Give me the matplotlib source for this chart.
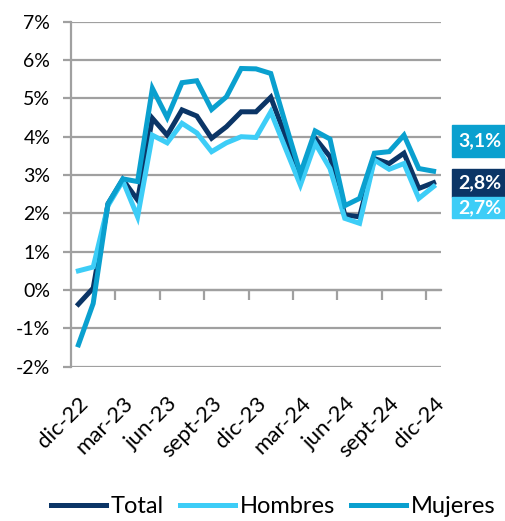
import numpy as np
import matplotlib.pyplot as plt
from matplotlib.patches import Rectangle

plt.rcParams['font.family'] = ['Lato', 'DejaVu Sans']

# Monthly data, dic-22 .. dic-24 (%)
months = ['dic-22', 'ene-23', 'feb-23', 'mar-23', 'abr-23', 'may-23', 'jun-23',
          'jul-23', 'ago-23', 'sept-23', 'oct-23', 'nov-23', 'dic-23',
          'ene-24', 'feb-24', 'mar-24', 'abr-24', 'may-24', 'jun-24',
          'jul-24', 'ago-24', 'sept-24', 'oct-24', 'nov-24', 'dic-24']
total = [-0.37, 0.05, 2.25, 2.88, 2.35, 4.48, 4.04, 4.70, 4.54, 3.96, 4.26, 4.65, 4.65,
         5.03, 4.00, 2.97, 3.96, 3.48, 1.96, 1.91, 3.43, 3.30, 3.57, 2.65, 2.80]
hombres = [0.50, 0.60, 2.20, 2.85, 1.91, 4.04, 3.84, 4.35, 4.10, 3.61, 3.84, 4.00, 3.98,
           4.65, 3.69, 2.74, 3.83, 3.17, 1.87, 1.74, 3.39, 3.15, 3.30, 2.39, 2.70]
mujeres = [-1.43, -0.35, 2.25, 2.90, 2.83, 5.26, 4.50, 5.41, 5.46, 4.71, 5.04, 5.78, 5.77,
           5.65, 4.33, 3.04, 4.15, 3.94, 2.20, 2.39, 3.57, 3.61, 4.04, 3.17, 3.10]

series = [('Total', total, '#0B3566'),
          ('Hombres', hombres, '#3DCDF7'),
          ('Mujeres', mujeres, '#0AA0CF')]

grid_col = '#A0A0A0'

fig = plt.figure(figsize=(5.06, 5.21), dpi=100)
ax = fig.add_axes([0.1403, 0.2962, 0.7312, 0.6621])

x = np.arange(len(months))
for name, vals, col in series:
    ax.plot(x, vals, color=col, lw=3.6, label=name, solid_joinstyle='miter')

ax.set_xlim(-0.5, len(months) - 0.5)
ax.set_ylim(-2, 7)
ax.set_yticks(range(-2, 8))
ax.set_yticklabels([f'{v}%' for v in range(-2, 8)], fontsize=14)
ax.yaxis.grid(True, color=grid_col, lw=1.6)
ax.set_axisbelow(True)
ax.tick_params(axis='y', length=6, width=1.6, color=grid_col, pad=9)

# category labels every 3 months, placed below the plot area
ax.set_xticks(x[::3])
ax.set_xticklabels(months[::3], rotation=45, ha='right', rotation_mode='anchor', fontsize=16)
ax.tick_params(axis='x', length=0, pad=19)

for s in ['top', 'right', 'bottom']:
    ax.spines[s].set_visible(False)
ax.spines['left'].set_color(grid_col)
ax.spines['left'].set_linewidth(1.6)

# category axis crossing at 0% with tick marks between categories
sec = ax.secondary_xaxis(2 / 9)
sec.set_xticks(np.arange(2.5, len(months), 3))
sec.set_xticklabels([])
sec.tick_params(length=7, width=1.6, color=grid_col)
sec.spines['bottom'].set_color(grid_col)
sec.spines['bottom'].set_linewidth(1.6)

# end-value boxes
boxes = [(mujeres, '#0AA0CF', 125, 157),
         (total, '#0B3566', 169, 197),
         (hombres, '#3DCDF7', 197, 218)]
for vals, col, top, bot in boxes:
    fig.patches.append(Rectangle((452 / 506, 1 - bot / 521), 54 / 506, (bot - top) / 521,
                                 transform=fig.transFigure, color=col, zorder=3))
    fig.text(480 / 506, 1 - (top + bot) / 2 / 521, f'{vals[-1]:.1f}%'.replace('.', ','),
             color='white', fontsize=14, fontweight='bold', ha='center', va='center', zorder=4)

fig.legend(loc='center', bbox_to_anchor=(0.5405, 0.027), ncol=3, frameon=False,
           fontsize=17, handlelength=2.33, handletextpad=0.2, columnspacing=0.68)

fig.savefig('out.png', dpi=100)
